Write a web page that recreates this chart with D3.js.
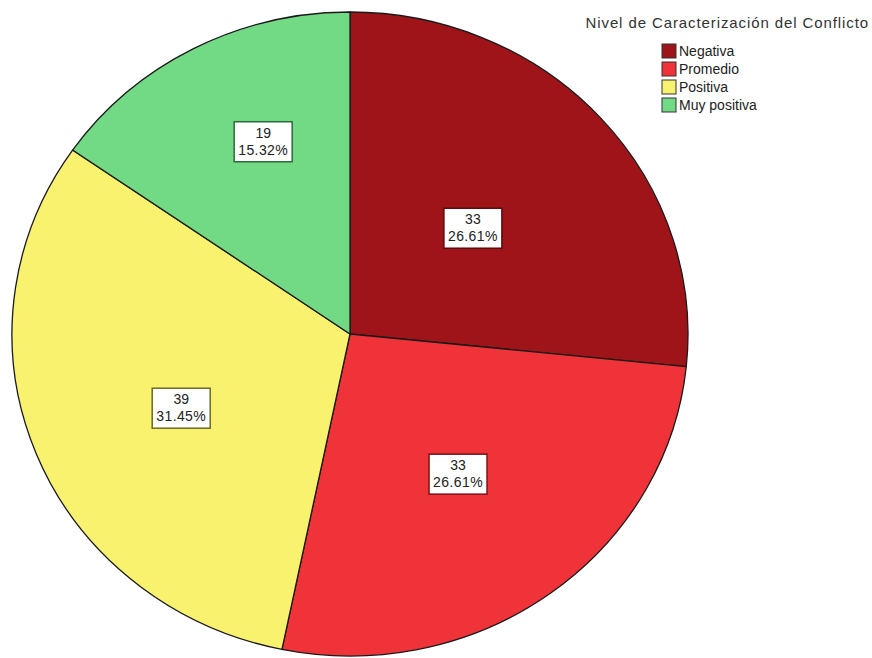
<!DOCTYPE html>
<html>
<head>
<meta charset="utf-8">
<script src="https://cdn.jsdelivr.net/npm/d3@7"></script>
<style>
  body { margin: 0; background: #fff; }
  svg { display: block; font-family: Arial, "Liberation Sans", sans-serif; }
</style>
</head>
<body>
<svg width="872" height="658"></svg>
<script>
// Chart data
const categories = ["Negativa", "Promedio", "Positiva", "Muy positiva"];
const counts = [33, 33, 39, 19];
const percents = ["26.61%", "26.61%", "31.45%", "15.32%"];
const legendTitle = "Nivel de Caracterización del Conflicto";

// Colours per slice and darker border for label boxes
const fills = ["#9e1418", "#ef3339", "#f8f26e", "#72da84"];
const boxStrokes = ["#5a0a0c", "#7a1216", "#6e6a20", "#2e6a3a"];
// label placement: fraction of radius and angle nudge (degrees)
const labelR = [0.49, 0.54, 0.55, 0.65];
const labelNudge = [0, 0, -3, 4.3];

const width = 872, height = 658;
const cx = 350, cy = 334, rx = 338, ry = 322;

const svg = d3.select("svg");

const pie = d3.pie().sort(null).value(d => d)(counts);
const arc = d3.arc().innerRadius(0).outerRadius(rx);

// Pie is slightly squashed vertically in the original
const g = svg.append("g")
    .attr("transform", `translate(${cx},${cy}) scale(1,${ry / rx})`);

g.selectAll("path")
    .data(pie)
    .enter().append("path")
    .attr("d", arc)
    .style("fill", (d, i) => fills[i])
    .style("stroke", "#1a1a1a")
    .style("stroke-width", 1.3)
    .attr("vector-effect", "non-scaling-stroke");

// Labels
const labels = svg.selectAll(".lbl")
    .data(pie)
    .enter().append("g")
    .attr("class", "lbl")
    .attr("transform", (d, i) => {
        const a = (d.startAngle + d.endAngle) / 2 + labelNudge[i] * Math.PI / 180;
        const x = cx + Math.sin(a) * rx * labelR[i];
        const y = cy - Math.cos(a) * ry * labelR[i];
        return `translate(${x},${y})`;
    });

labels.append("rect")
    .attr("x", -29)
    .attr("y", -20)
    .attr("width", 58)
    .attr("height", 40)
    .style("fill", "#fff")
    .style("stroke", (d, i) => boxStrokes[i])
    .style("stroke-width", 1.5);

labels.append("text")
    .attr("text-anchor", "middle")
    .attr("y", -4)
    .style("font-size", "14px")
    .style("fill", "#222")
    .text((d, i) => counts[i]);

labels.append("text")
    .attr("text-anchor", "middle")
    .attr("y", 13)
    .style("font-size", "14px")
    .style("letter-spacing", "0.4px")
    .style("fill", "#222")
    .text((d, i) => percents[i]);

// Legend
svg.append("text")
    .attr("x", 869)
    .attr("y", 28)
    .attr("text-anchor", "end")
    .style("font-size", "15px")
    .style("letter-spacing", "0.9px")
    .style("fill", "#333")
    .text(legendTitle);

const lg = svg.selectAll(".leg")
    .data(categories)
    .enter().append("g")
    .attr("class", "leg")
    .attr("transform", (d, i) => `translate(662,${44 + i * 18})`);

lg.append("rect")
    .attr("width", 14)
    .attr("height", 14)
    .style("fill", (d, i) => fills[i])
    .style("stroke", "#333")
    .style("stroke-width", 1);

lg.append("text")
    .attr("x", 17)
    .attr("y", 12)
    .style("font-size", "14px")
    .style("fill", "#222")
    .text(d => d);
</script>
</body>
</html>
